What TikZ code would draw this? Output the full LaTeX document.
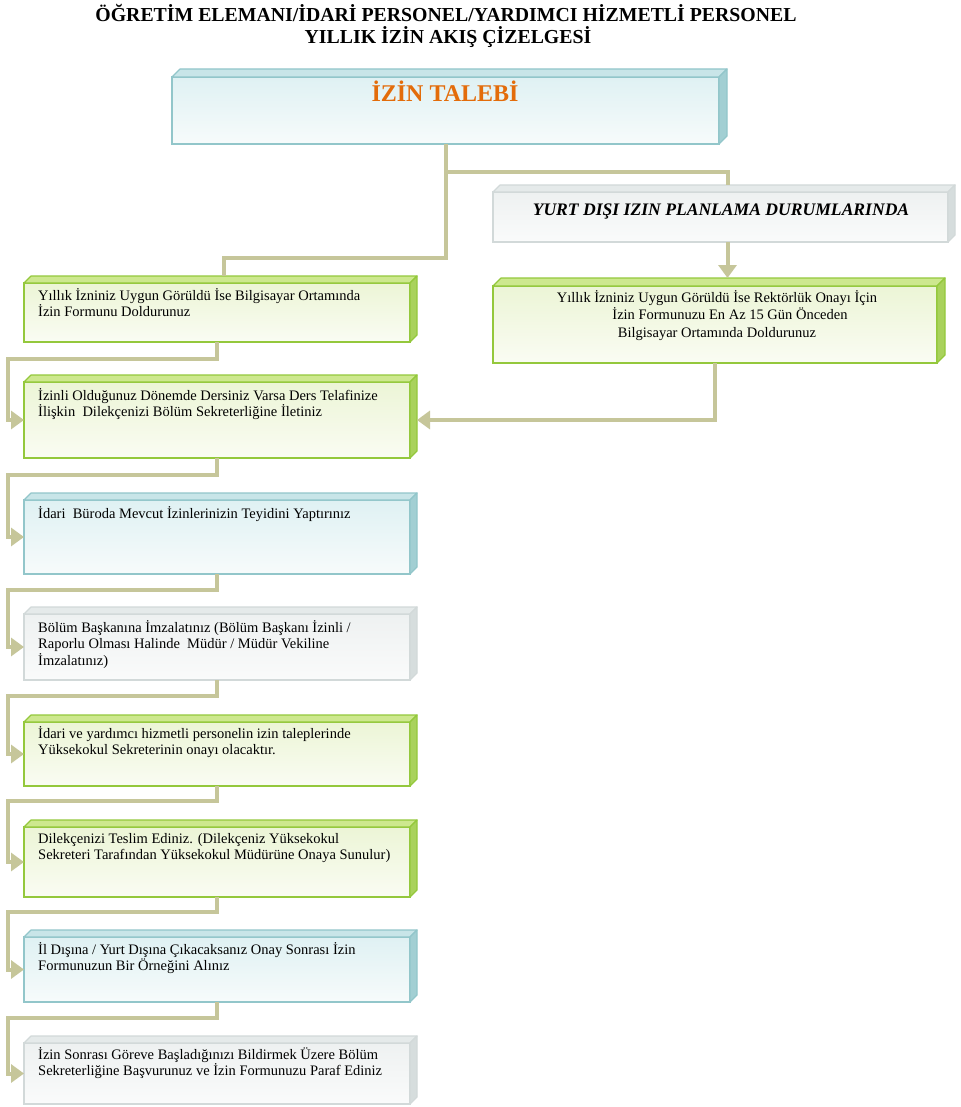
\documentclass[tikz,border=0pt]{standalone}
\usepackage{fontspec}
\setmainfont{Liberation Serif}
\usetikzlibrary{arrows.meta,calc}
\definecolor{lineC}{HTML}{C6C69A}
\definecolor{gBorder}{HTML}{94C83C}
\definecolor{gTop}{HTML}{CDE88E}
\definecolor{gRight}{HTML}{A9D25C}
\definecolor{gFrontA}{HTML}{ECF5D6}
\definecolor{gFrontB}{HTML}{FAFCF3}
\definecolor{cBorder}{HTML}{92C6CA}
\definecolor{cTop}{HTML}{C8E5E8}
\definecolor{cRight}{HTML}{A2CFD3}
\definecolor{cFrontA}{HTML}{DFF1F3}
\definecolor{cFrontB}{HTML}{F7FBFB}
\definecolor{wBorder}{HTML}{D2D9D9}
\definecolor{wTop}{HTML}{E5EAEA}
\definecolor{wRight}{HTML}{D6DDDD}
\definecolor{wFrontA}{HTML}{EEF1F1}
\definecolor{wFrontB}{HTML}{FAFBFB}
\definecolor{orangeT}{HTML}{E36C0A}
\tikzset{
  frontbase/.style={rectangle, outer sep=0pt, inner sep=0pt, line width=1.2pt},
  gfront/.style={frontbase, draw=gBorder, top color=gFrontA, bottom color=gFrontB},
  gside/.style={draw=gBorder, fill=gTop, line width=1.2pt, line join=round},
  gright/.style={draw=gBorder, fill=gRight, line width=1.2pt, line join=round},
  cfront/.style={frontbase, draw=cBorder, top color=cFrontA, bottom color=cFrontB},
  cside/.style={draw=cBorder, fill=cTop, line width=1.2pt, line join=round},
  cright/.style={draw=cBorder, fill=cRight, line width=1.2pt, line join=round},
  wfront/.style={frontbase, draw=wBorder, top color=wFrontA, bottom color=wFrontB},
  wside/.style={draw=wBorder, fill=wTop, line width=1.2pt, line join=round},
  wright/.style={draw=wBorder, fill=wRight, line width=1.2pt, line join=round},
  conn/.style={draw=lineC, line width=4pt, line join=miter},
  arr/.style={conn, -{Triangle[length=13pt,width=18pt]}},
  btxt/.style={inner sep=0pt, align=left, font=\fontsize{14.5}{16.5}\selectfont},
  ctxt/.style={inner sep=0pt, align=center, font=\fontsize{14.5}{17.5}\selectfont},
  ttl/.style={inner sep=0pt, anchor=base, font=\bfseries\fontsize{19.8}{22}\selectfont}
}
\newcommand{\tdbox}[7]{%
  \node[#2front, minimum width=#5pt, minimum height=#6pt, anchor=north west] (#1) at (#3,#4) {};
  \filldraw[#2side] (#1.north west) -- ++(#7pt,#7pt) -- ($(#1.north east)+(#7pt,#7pt)$) -- (#1.north east) -- cycle;
  \filldraw[#2right] (#1.north east) -- ++(#7pt,#7pt) -- ($(#1.south east)+(#7pt,#7pt)$) -- (#1.south east) -- cycle;
}
\newcommand{\fr}{\rule{0pt}{13pt}}
\begin{document}
\begin{tikzpicture}[x=1pt,y=-1pt]
\useasboundingbox[fill=white] (0,0) rectangle (960,1107);

% titles
\node[ttl] (title1) at (446,21.5) {ÖĞRETİM ELEMANI/İDARİ PERSONEL/YARDIMCI HİZMETLİ PERSONEL};
\node[ttl] (title2) at (448,43.5) {YILLIK İZİN AKIŞ ÇİZELGESİ};

% boxes
\tdbox{b1}{c}{172}{77}{547}{67}{8}
\node[inner sep=0pt, anchor=base, text=orangeT, font=\bfseries\fontsize{24}{26}\selectfont] (b1t) at (445,102) {İZİN TALEBİ};

\tdbox{yurt}{w}{493}{192}{455}{50}{7}
\node[inner sep=0pt, anchor=base, font=\bfseries\itshape\fontsize{17.6}{20}\selectfont] (yurtt) at (721,215) {YURT DIŞI IZIN PLANLAMA DURUMLARINDA};

\tdbox{rbox}{g}{493}{286}{444}{77}{8}
\node[ctxt, anchor=north] (rboxt) at ($(rbox.north)+(2pt,-3pt)$) {\fr Yıllık İzniniz Uygun Görüldü İse Rektörlük Onayı İçin\\ \hspace*{26pt}İzin Formunuzu En Az 15 Gün Önceden\\ Bilgisayar Ortamında Doldurunuz};

\tdbox{b2}{g}{24}{283}{386}{59}{7}
\node[btxt, anchor=north west] (b2t) at ($(b2.north west)+(14pt,-4pt)$) {\fr Yıllık İzniniz Uygun Görüldü İse Bilgisayar Ortamında\\ İzin Formunu Doldurunuz};

\tdbox{b3}{g}{24}{382}{386}{76}{7}
\node[btxt, anchor=north west] (b3t) at ($(b3.north west)+(14pt,-5pt)$) {\fr İzinli Olduğunuz Dönemde Dersiniz Varsa Ders Telafinize\\ İlişkin~ Dilekçenizi Bölüm Sekreterliğine İletiniz};

\tdbox{b4}{c}{24}{500}{386}{74}{7}
\node[btxt, anchor=north west] (b4t) at ($(b4.north west)+(14pt,-5pt)$) {\fr İdari~ Büroda Mevcut İzinlerinizin Teyidini Yaptırınız};

\tdbox{b5}{w}{24}{614}{386}{66}{7}
\node[btxt, anchor=north west] (b5t) at ($(b5.north west)+(14pt,-5pt)$) {\fr Bölüm Başkanına İmzalatınız (Bölüm Başkanı İzinli /\\ Raporlu Olması Halinde~ Müdür / Müdür Vekiline\\ İmzalatınız)};

\tdbox{b6}{g}{24}{722}{386}{64}{7}
\node[btxt, anchor=north west] (b6t) at ($(b6.north west)+(14pt,-3pt)$) {\fr İdari ve yardımcı hizmetli personelin izin taleplerinde\\ Yüksekokul Sekreterinin onayı olacaktır.};

\tdbox{b7}{g}{24}{827}{386}{70}{7}
\node[btxt, anchor=north west] (b7t) at ($(b7.north west)+(14pt,-3pt)$) {\fr Dilekçenizi Teslim Ediniz. (Dilekçeniz Yüksekokul\\ Sekreteri Tarafından Yüksekokul Müdürüne Onaya Sunulur)};

\tdbox{b8}{c}{24}{937}{386}{65}{7}
\node[btxt, anchor=north west] (b8t) at ($(b8.north west)+(14pt,-4pt)$) {\fr İl Dışına / Yurt Dışına Çıkacaksanız Onay Sonrası İzin\\ Formunuzun Bir Örneğini Alınız};

\tdbox{b9}{w}{24}{1043}{386}{61}{7}
\node[btxt, anchor=north west] (b9t) at ($(b9.north west)+(14pt,-3pt)$) {\fr İzin Sonrası Göreve Başladığınızı Bildirmek Üzere Bölüm\\ Sekreterliğine Başvurunuz ve İzin Formunuzu Paraf Ediniz};

% connectors
\coordinate (b2top) at ($(b2.north)+(7pt,7pt)$);
\coordinate (yurttop) at ($(yurt.north)+(7pt,7pt)$);
\coordinate (ya) at ($(yurt.south)+(7pt,0pt)$);
\coordinate (rtop) at ($(rbox.north)+(8pt,8pt)$);
\draw[conn] (b1.south) -- ++(0,114) -| (b2top);
\draw[conn] (b1.south) -- ++(0,28) -| (yurttop);
\draw[arr] (ya) -- (ya |- rtop);
\draw[arr] (rbox.south) |- ($(b3.east)+(7pt,0pt)$);
\draw[arr] (b2.south) -- ++(0,17) -| ([xshift=-16pt]b3.west) -- (b3.west);
\draw[arr] (b3.south) -- ++(0,17) -| ([xshift=-16pt]b4.west) -- (b4.west);
\draw[arr] (b4.south) -- ++(0,16) -| ([xshift=-16pt]b5.west) -- (b5.west);
\draw[arr] (b5.south) -- ++(0,16) -| ([xshift=-16pt]b6.west) -- (b6.west);
\draw[arr] (b6.south) -- ++(0,15) -| ([xshift=-16pt]b7.west) -- (b7.west);
\draw[arr] (b7.south) -- ++(0,15) -| ([xshift=-16pt]b8.west) -- (b8.west);
\draw[arr] (b8.south) -- ++(0,16) -| ([xshift=-16pt]b9.west) -- (b9.west);
\end{tikzpicture}
\end{document}
